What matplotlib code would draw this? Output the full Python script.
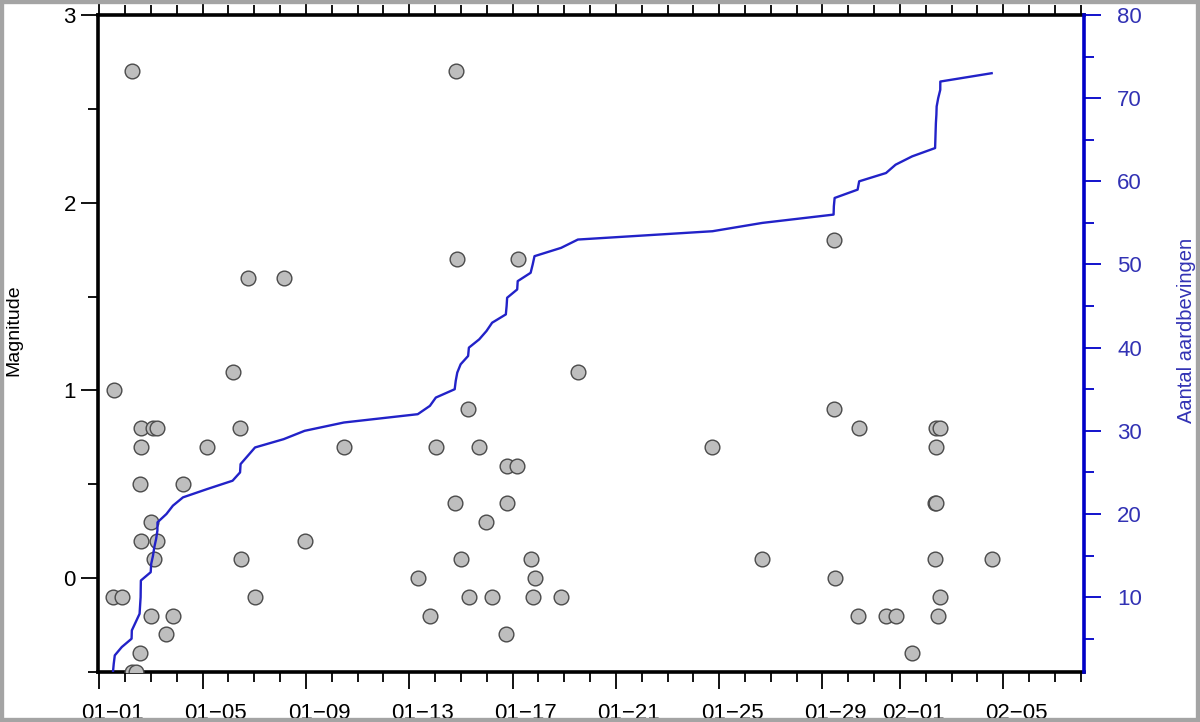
import numpy as np
import pandas as pd
import matplotlib
matplotlib.use('Agg')
import matplotlib.pyplot as plt
import matplotlib.dates as mdates
from matplotlib.ticker import FixedLocator
from matplotlib.transforms import ScaledTranslation
from matplotlib.patches import Rectangle

plt.rcParams['font.family'] = ['Liberation Sans', 'DejaVu Sans']

YEAR = '2015'

# event times (MM-DD HH:MM) and magnitudes
# (a few events below M -0.5 fall outside the axis but still count)
event_times = [
    '01-01 12:43', '01-01 13:26', '01-01 14:24', '01-01 20:53',
    '01-02 06:00', '01-02 06:14', '01-02 09:50', '01-02 13:26', '01-02 13:55',
    '01-02 14:24', '01-02 14:30', '01-02 14:38', '01-02 23:46',
    '01-03 00:14', '01-03 01:55', '01-03 03:07', '01-03 04:48', '01-03 06:00',
    '01-03 06:05', '01-03 14:24', '01-03 20:24',
    '01-04 05:46', '01-05 04:19',
    '01-06 03:50', '01-06 10:48', '01-06 11:17', '01-06 18:00',
    '01-07 00:43', '01-08 03:22', '01-08 22:48', '01-10 11:17',
    '01-13 07:55', '01-13 19:12',
    '01-14 00:43', '01-14 18:14', '01-14 19:12', '01-14 20:38', '01-14 23:46',
    '01-15 06:43', '01-15 07:26', '01-15 17:02', '01-15 23:46',
    '01-16 05:02', '01-16 17:46', '01-16 18:29', '01-16 18:58',
    '01-17 04:19', '01-17 04:48', '01-17 16:48', '01-17 18:43', '01-17 20:24',
    '01-18 21:07', '01-19 12:43', '01-24 17:46', '01-26 16:05',
    '01-29 10:19', '01-29 10:34', '01-29 11:17',
    '01-30 08:38', '01-30 10:05', '01-31 11:02', '01-31 19:55',
    '02-01 11:17',
    '02-02 08:38', '02-02 08:53', '02-02 09:07', '02-02 09:22', '02-02 09:50',
    '02-02 10:05', '02-02 11:31', '02-02 13:26', '02-02 13:30',
    '02-04 13:12',
]
magnitudes = [
    -0.1, 1.0, -0.6, -0.1,
    -0.5, 2.7, -0.5, 0.5, -0.4,
    0.8, 0.7, 0.2, -0.2,
    0.3, 0.8, 0.1, -0.7, 0.8,
    0.2, -0.3, -0.2,
    0.5, 0.7,
    1.1, 0.8, 0.1, 1.6,
    -0.1, 1.6, 0.2, 0.7,
    0.0, -0.2,
    0.7, 0.4, 2.7, 1.7, 0.1,
    0.9, -0.1, 0.7, 0.3,
    -0.1, -0.3, 0.6, 0.4,
    0.6, 1.7, 0.1, -0.1, 0.0,
    -0.1, 1.1, 0.7, 0.1,
    1.8, 0.9, 0.0,
    -0.2, 0.8, -0.2, -0.2,
    -0.4,
    0.1, 0.4, 0.4, 0.8, 0.7,
    -0.6, -0.2, 0.8, -0.1,
    0.1,
]

tick_dates = ['01-01', '01-05', '01-09', '01-13', '01-17', '01-21',
              '01-25', '01-29', '02-01', '02-05']
tick_labels = [d.replace('-', '\u2212') for d in tick_dates]

times = pd.to_datetime([YEAR + '-' + t for t in event_times])
counts = np.arange(1, len(times) + 1)  # running number of quakes

blue = '#0000c8'
txtblue = '#3232b4'

fig = plt.figure(figsize=(12, 7.22), dpi=100)
ax = fig.add_axes([98/1200, 1 - 672/722, (1084 - 98)/1200, (672 - 15)/722])
ax2 = ax.twinx()

ax.scatter(times, magnitudes, s=112, facecolor='#bebebe', edgecolor='#4a4a4a',
           linewidths=1.0, zorder=3)
ax2.plot(times, counts, color='#2222c8', lw=1.7)

ax.set_xlim(pd.Timestamp(YEAR + '-12-31 22:48') - pd.DateOffset(years=1),
            pd.Timestamp(YEAR + '-02-08 03:00'))
ax.set_ylim(-0.5, 3)
ax2.set_ylim(1, 80)

# x axis
major = mdates.date2num(pd.to_datetime([YEAR + '-' + d for d in tick_dates]))
ax.xaxis.set_major_locator(FixedLocator(major))
ax.xaxis.set_minor_locator(mdates.DayLocator())
ax.set_xticklabels(tick_labels)
ax.tick_params(axis='x', which='both', top=True, direction='out', width=1.3,
               labelsize=16, pad=10)
ax.tick_params(axis='x', which='major', length=12)
ax.tick_params(axis='x', which='minor', length=7)
shift = ScaledTranslation(13/100, 0, fig.dpi_scale_trans)
for lab in ax.get_xticklabels():
    lab.set_transform(lab.get_transform() + shift)

# left axis
ax.set_yticks([0, 1, 2, 3])
ax.set_yticks([-0.5, 0.5, 1.5, 2.5], minor=True)
ax.tick_params(axis='y', which='both', direction='out', width=1.3,
               labelsize=16, pad=4)
ax.tick_params(axis='y', which='major', length=12)
ax.tick_params(axis='y', which='minor', length=7)
ax.set_ylabel('Magnitude', fontsize=14)
ax.yaxis.set_label_coords(-0.077, 0.52)

# right axis
ax2.set_yticks(np.arange(10, 81, 10))
ax2.set_yticks(np.arange(5, 80, 10), minor=True)
ax2.tick_params(axis='y', which='both', direction='out', width=1.3,
                colors=blue, labelcolor=txtblue, labelsize=16, pad=12)
ax2.tick_params(axis='y', which='major', length=12)
ax2.tick_params(axis='y', which='minor', length=7)
ax2.set_ylabel('Aantal aardbevingen', fontsize=14.5, color=txtblue)
ax2.yaxis.set_label_coords(1.0943, 0.52)

for s in ['left', 'bottom', 'top']:
    ax.spines[s].set_linewidth(2.6)
    ax2.spines[s].set_visible(False)
ax.spines['right'].set_visible(False)
ax2.spines['right'].set_color(blue)
ax2.spines['right'].set_linewidth(2.6)

fig.add_artist(Rectangle((0, 0), 1, 1, transform=fig.transFigure, fill=False,
                         edgecolor='#a4a4a4', lw=6))

fig.savefig('out.png', dpi=100)
